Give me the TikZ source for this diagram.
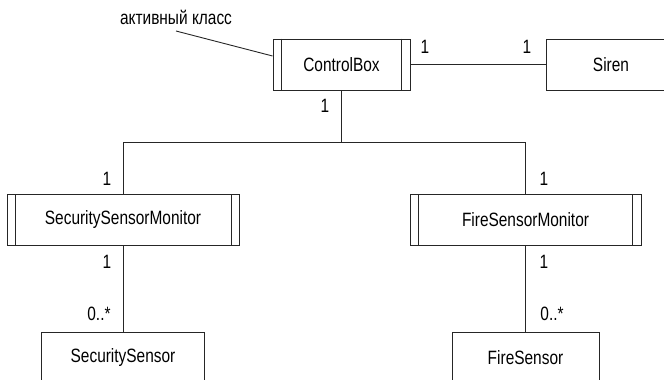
\documentclass[tikz,border=0pt]{standalone}
\usepackage{fontspec}
\setmainfont{Liberation Sans}[FakeStretch=0.8]
\begin{document}
\begin{tikzpicture}[x=1pt,y=-1pt,
  line width=0.9pt,
  every node/.style={font=\fontsize{19.3}{22}\selectfont, text=black},
  cls/.style={draw=black!85, inner sep=0pt, minimum height=51pt},
  mult/.style={inner sep=0pt},
  conn/.style={draw=black!85}]
\useasboundingbox (0,0) rectangle (664,380);
\clip (0,0) rectangle (664,380);
% classes
\node[cls, minimum width=137pt] (cb) at (341.5,64.5) {ControlBox};
\node[cls, minimum width=130pt] (siren) at (611,64.5) {Siren};
\node[cls, minimum width=232pt] (ssm) at (123,220) {SecuritySensorMonitor};
\node[cls, minimum width=231pt] (fsm) at (525.5,220) {FireSensorMonitor};
\node[cls, minimum width=163pt, minimum height=52pt] (ss) at (123,358) {SecuritySensor};
\node[cls, minimum width=147pt, minimum height=52pt] (fs) at (525.5,358) {FireSensor};
% active class bars
\foreach \n/\w in {cb/8.7, ssm/8.5, fsm/8.6}{
  \draw[conn] ([xshift=\w pt]\n.north west) -- ([xshift=\w pt]\n.south west);
  \draw[conn] ([xshift=-\w pt]\n.north east) -- ([xshift=-\w pt]\n.south east);
}
% connectors
\coordinate (junc) at (341,142);
\coordinate (jl) at (123,142);
\coordinate (jr) at (525.5,142);
\draw[conn] (cb.east) -- (siren.west);
\draw[conn] (cb.south -| junc) -- (junc);
\draw[conn] (ssm.north) -- (jl) -- (jr) -- (fsm.north);
\draw[conn] (ssm.south) -- (ss.north);
\draw[conn] (fsm.south) -- (fs.north);
% note
\node[mult] (note) at (176,17) {активный класс};
\coordinate (notetip) at (176,31);
\draw[conn] (notetip) -- (cb.north west |- 0,56);
% multiplicities
\node[mult] (m1) at (425,47) {1};
\node[mult] (m2) at (527,47) {1};
\node[mult] (m3) at (325,106) {1};
\node[mult] (m4) at (107,179) {1};
\node[mult] (m5) at (107,262) {1};
\node[mult] (m6) at (99,314) {0..*};
\node[mult] (m7) at (544,179) {1};
\node[mult] (m8) at (544,262) {1};
\node[mult] (m9) at (552,314) {0..*};
\end{tikzpicture}
\end{document}
